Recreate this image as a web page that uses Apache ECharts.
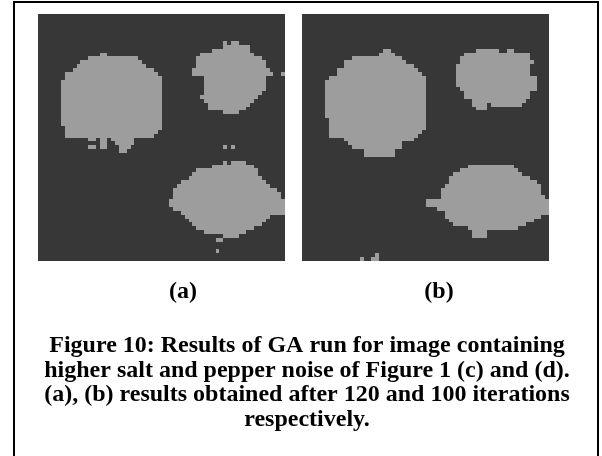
<!DOCTYPE html>
<html>
<head>
<meta charset="utf-8">
<script src="https://cdn.jsdelivr.net/npm/echarts@6/dist/echarts.min.js"></script>
<style>
  html, body { margin: 0; padding: 0; background: #ffffff; }
  #chart { width: 602px; height: 456px; }
</style>
</head>
<body>
<div id="chart"></div>
<script>
// Segmented 64x64 label maps. Each run is [row, firstCol, lastCol] of "object" pixels.
const gridSize = 64;

const panelLabels = ['(a)', '(b)'];
const captionLines = [
  'Figure 10: Results of GA run for image containing',
  'higher salt and pepper noise of Figure 1 (c) and (d).',
  '(a), (b) results obtained after 120 and 100 iterations',
  'respectively.'
];

// Panel (a): result after 120 iterations
const runsA = [
  // upper-left object
  [10,16,17],
  [11,13,25],
  [12,11,26],
  [13,10,27],
  [14,9,29],
  [15,7,30],
  [16,7,31],
  [17,6,31],[18,6,31],[19,6,31],[20,6,31],[21,6,31],[22,6,31],
  [23,6,31],[24,6,31],[25,6,31],[26,6,31],[27,6,31],[28,6,31],
  [29,7,31],
  [30,7,30],
  [31,7,29],
  [32,13,14],[32,16,17],[32,19,24],
  [33,16,17],[33,20,24],
  [34,13,14],[34,16,17],[34,21,23],
  [35,21,22],
  // upper-right object
  [7,48,48],[7,50,51],
  [8,48,54],
  [9,45,54],
  [10,42,55],
  [11,41,57],
  [12,41,58],
  [13,41,58],
  [14,40,59],
  [15,40,60],[15,63,63],
  [16,43,58],
  [17,43,58],
  [18,43,58],
  [19,43,58],
  [20,43,57],
  [21,42,56],
  [22,43,55],
  [23,44,54],
  [24,44,53],
  [25,48,51],
  // isolated pixels
  [34,48,48],[34,50,50],
  // lower-right object
  [38,48,48],[38,50,53],
  [39,45,55],
  [40,41,56],
  [41,40,56],
  [42,39,57],
  [43,37,58],
  [44,36,59],
  [45,35,61],
  [46,35,62],
  [47,35,62],
  [48,34,63],
  [49,34,63],
  [50,35,63],
  [51,37,63],
  [52,38,59],
  [53,39,58],
  [54,40,57],
  [55,41,55],
  [56,43,53],
  [57,48,51],
  [58,46,47],
  [61,46,46]
];

// Panel (b): result after 100 iterations
const runsB = [
  // upper-left object
  [9,21,22],
  [10,20,23],
  [11,13,25],
  [12,11,26],
  [13,11,28],
  [14,9,29],
  [15,9,30],
  [16,7,31],
  [17,6,31],[18,6,31],[19,6,31],[20,6,31],[21,6,31],
  [22,6,31],[23,6,31],[24,6,31],[25,6,31],[26,6,31],
  [27,7,31],[28,7,31],[29,7,31],
  [30,7,30],
  [31,7,29],
  [32,11,28],
  [33,12,25],
  [34,13,25],
  [35,16,23],
  [36,16,23],
  // upper-right object
  [9,45,50],[9,53,54],
  [10,42,58],
  [11,41,58],
  [12,41,59],
  [13,40,58],
  [14,40,58],
  [15,40,58],
  [16,40,60],
  [17,40,60],
  [18,40,60],
  [19,41,60],
  [20,42,58],
  [21,42,58],
  [22,44,57],
  [23,44,47],[23,49,56],
  [24,45,47],
  // lower-right object
  [39,43,54],
  [40,41,55],
  [41,39,56],
  [42,38,58],
  [43,38,60],
  [44,37,61],
  [45,36,61],
  [46,36,61],
  [47,36,62],
  [48,32,63],
  [49,32,63],
  [50,35,63],
  [51,37,63],
  [52,37,61],
  [53,38,59],
  [54,39,57],
  [55,43,55],
  [56,44,47],
  [57,44,47],
  // noise along the bottom edge
  [62,19,19],
  [63,15,15],[63,18,19]
];

const backColor = '#373737';
const objectColor = '#9d9d9d';
const serif = '"Liberation Serif", "Times New Roman", serif';

function renderRun(params, api) {
  const row = api.value(0);
  const c0 = api.value(1);
  const c1 = api.value(2);
  const p0 = api.coord([c0, row]);
  const p1 = api.coord([c1 + 1, row + 1]);
  const x0 = Math.round(p0[0]), y0 = Math.round(p0[1]);
  const x1 = Math.round(p1[0]), y1 = Math.round(p1[1]);
  return {
    type: 'rect',
    shape: { x: x0, y: y0, width: x1 - x0, height: y1 - y0 },
    style: { fill: objectColor }
  };
}

const panels = [
  { left: 38, runs: runsA },
  { left: 302, runs: runsB }
];

const chart = echarts.init(document.getElementById('chart'), null, { renderer: 'canvas' });

chart.setOption({
  backgroundColor: '#ffffff',
  animation: false,
  grid: panels.map(p => ({
    left: p.left, top: 14, width: 247, height: 247,
    show: true, backgroundColor: backColor, borderWidth: 0
  })),
  xAxis: panels.map((p, i) => ({
    type: 'value', gridIndex: i, min: 0, max: gridSize, show: false
  })),
  yAxis: panels.map((p, i) => ({
    type: 'value', gridIndex: i, min: 0, max: gridSize, inverse: true, show: false
  })),
  series: panels.map((p, i) => ({
    type: 'custom',
    xAxisIndex: i,
    yAxisIndex: i,
    encode: { x: [1, 2], y: 0 },
    renderItem: renderRun,
    silent: true,
    data: p.runs
  })),
  graphic: [
    {
      type: 'rect',
      shape: { x: 14, y: 2, width: 584, height: 480 },
      style: { fill: 'none', stroke: '#000000', lineWidth: 2 },
      silent: true
    },
    ...panelLabels.map((t, i) => ({
      type: 'text',
      x: [183, 439][i],
      y: 292,
      style: {
        text: t, fill: '#000000', font: 'bold 24px ' + serif,
        textAlign: 'center', textVerticalAlign: 'middle'
      }
    })),
    ...captionLines.map((t, i) => ({
      type: 'text',
      x: 307,
      y: 346 + i * 24.5,
      style: {
        text: t, fill: '#000000', font: 'bold 24px ' + serif,
        textAlign: 'center', textVerticalAlign: 'middle'
      }
    }))
  ]
});
</script>
</body>
</html>
